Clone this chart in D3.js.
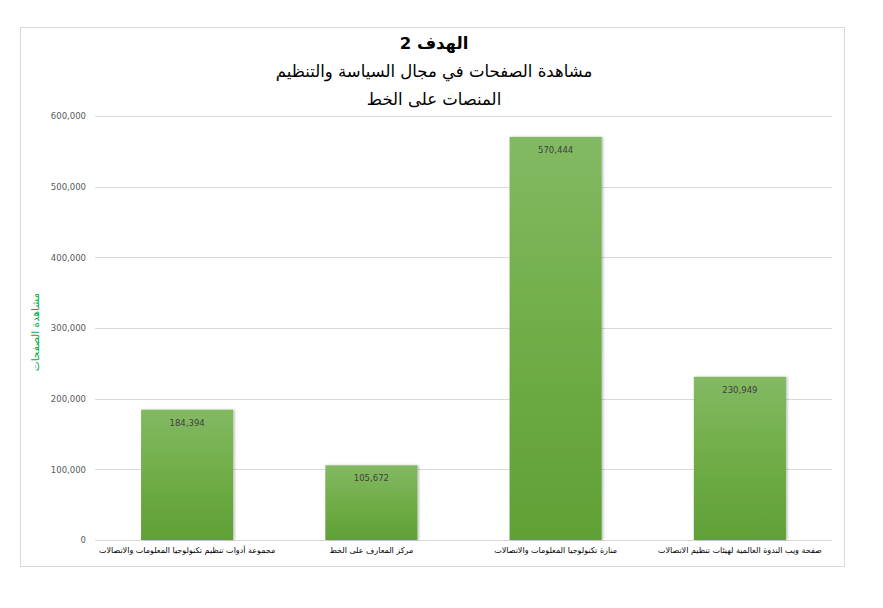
<!DOCTYPE html>
<html>
<head>
<meta charset="utf-8">
<script src="https://cdn.jsdelivr.net/npm/d3@7"></script>
<style>
  body { margin: 0; background: #fff; }
  text { font-family: "DejaVu Sans", sans-serif; }
</style>
</head>
<body>
<div id="chart"></div>
<script>
// chart data
var categories = [
  "مجموعة أدوات تنظيم تكنولوجيا المعلومات والاتصالات",
  "مركز المعارف على الخط",
  "منارة تكنولوجيا المعلومات والاتصالات",
  "صفحة ويب الندوة العالمية لهيئات تنظيم الاتصالات"
];
var pageViews = [184394, 105672, 570444, 230949];
var yTicks = [0, 100000, 200000, 300000, 400000, 500000, 600000];
var titleLines = ["الهدف 2", "مشاهدة الصفحات في مجال السياسة والتنظيم", "المنصات على الخط"];
var yAxisTitle = "مشاهدة الصفحات";

var svgWidth = 883;
var svgHeight = 608;

var margin = { top: 116, right: 51, bottom: 68, left: 95 };
var width = svgWidth - margin.left - margin.right;
var height = svgHeight - margin.top - margin.bottom;

var svg = d3.select("#chart")
  .append("svg")
  .attr("width", svgWidth)
  .attr("height", svgHeight);

// gradient for bars
var defs = svg.append("defs");
var grad = defs.append("linearGradient")
  .attr("id", "barGrad")
  .attr("x1", 0).attr("y1", 0).attr("x2", 0).attr("y2", 1);
grad.append("stop").attr("offset", "0%").attr("stop-color", "#83b963");
grad.append("stop").attr("offset", "50%").attr("stop-color", "#70ad47");
grad.append("stop").attr("offset", "100%").attr("stop-color", "#5fa036");

var shadow = defs.append("filter").attr("id", "shadow")
  .attr("x", "-10%").attr("y", "-10%").attr("width", "130%").attr("height", "120%");
shadow.append("feDropShadow")
  .attr("dx", 1.5).attr("dy", 0).attr("stdDeviation", 1.2)
  .attr("flood-color", "#000").attr("flood-opacity", 0.25);

// chart border
svg.append("rect")
  .attr("x", 20.5).attr("y", 27.5)
  .attr("width", 824).attr("height", 539)
  .attr("fill", "#fff")
  .attr("stroke", "#d9d9d9");

// titles
svg.selectAll(".title")
  .data(titleLines)
  .enter()
  .append("text")
  .attr("class", "title")
  .attr("x", 434)
  .attr("y", (d, i) => 49 + i * 28)
  .attr("text-anchor", "middle")
  .attr("direction", "rtl")
  .style("font-size", "16.5px")
  .style("font-weight", (d, i) => i === 0 ? "bold" : "normal")
  .attr("fill", "#000")
  .text(d => d);

var chartGroup = svg.append("g")
  .attr("transform", `translate(${margin.left}, ${margin.top})`);

var xScale = d3.scaleBand()
  .domain(categories)
  .range([0, width])
  .paddingInner(0.5)
  .paddingOuter(0.25);

var yScale = d3.scaleLinear()
  .domain([0, 600000])
  .range([height, 0]);

// gridlines
chartGroup.append("g")
  .selectAll("line")
  .data(yTicks)
  .enter()
  .append("line")
  .attr("x1", 0)
  .attr("x2", width)
  .attr("y1", d => Math.round(yScale(d)) + 0.5)
  .attr("y2", d => Math.round(yScale(d)) + 0.5)
  .attr("stroke", "#d9d9d9");

// y axis labels
var leftAxis = d3.axisLeft(yScale)
  .tickValues(yTicks)
  .tickSize(0)
  .tickPadding(9)
  .tickFormat(d3.format(","));

var yAxis = chartGroup.append("g").call(leftAxis);
yAxis.select(".domain").remove();
yAxis.selectAll("text")
  .style("font-family", "DejaVu Sans, sans-serif")
  .style("font-size", "8.5px")
  .attr("fill", "#595959");

// bars
chartGroup.selectAll(".bar")
  .data(pageViews)
  .enter()
  .append("rect")
  .attr("class", "bar")
  .attr("x", (d, i) => xScale(categories[i]))
  .attr("y", d => yScale(d))
  .attr("width", xScale.bandwidth())
  .attr("height", d => height - yScale(d))
  .attr("fill", "url(#barGrad)")
  .attr("filter", "url(#shadow)");

// value labels
chartGroup.selectAll(".valueLabel")
  .data(pageViews)
  .enter()
  .append("text")
  .attr("class", "valueLabel")
  .attr("x", (d, i) => xScale(categories[i]) + xScale.bandwidth() / 2)
  .attr("y", d => yScale(d) + 16)
  .attr("text-anchor", "middle")
  .style("font-size", "8.5px")
  .attr("fill", "#404040")
  .text(d => d3.format(",")(d));

// category labels
chartGroup.selectAll(".catLabel")
  .data(categories)
  .enter()
  .append("text")
  .attr("class", "catLabel")
  .attr("x", d => xScale(d) + xScale.bandwidth() / 2)
  .attr("y", height + 13)
  .attr("text-anchor", "middle")
  .attr("direction", "rtl")
  .style("font-size", "8px")
  .attr("fill", "#000")
  .text(d => d);

// y axis title
svg.append("text")
  .attr("transform", "translate(39, 332) rotate(-90)")
  .attr("text-anchor", "middle")
  .attr("direction", "rtl")
  .style("font-size", "10.5px")
  .attr("fill", "#00b050")
  .text(yAxisTitle);
</script>
</body>
</html>
